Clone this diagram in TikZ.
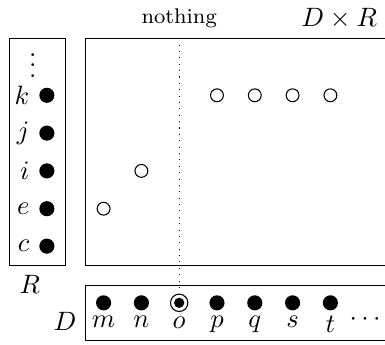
\documentclass[tikz,border=0pt]{standalone}
\usepackage{tikz}

\begin{document}
\begin{tikzpicture}[x=0.5cm, y=0.5cm,
  dot/.style={circle, fill, inner sep=0pt, minimum size=0.2cm},
  hole/.style={circle, draw, inner sep=0pt, minimum size=0.17cm},
  ring/.style={circle, draw, inner sep=0pt, minimum size=0.23cm,
    path picture={\fill (path picture bounding box.center) circle (0.068cm);}},
  lab/.style={label distance=-1.5pt}]
  \useasboundingbox (0,0) rectangle (10.185,9.101);
  % R
  \draw (0.25,2.08) rectangle (1.74,8.09);
  \node[dot, label=left:$c$] (c) at (1.24,2.59) {};
  \node[dot, label=left:$e$] (e) at (1.24,3.58) {};
  \node[dot, label=left:$i$] (i) at (1.24,4.58) {};
  \node[dot, label=left:$j$] (j) at (1.24,5.58) {};
  \node[dot, label=left:$k$] (k) at (1.24,6.58) {};
  \node[anchor=base] (vd) at (0.87,7.05) {$\vdots$};
  \node[anchor=base] (R) at (0.79,1.33) {$R$};
  % D
  \draw (10.185,1.55) -- (2.25,1.55) -- (2.25,0.10) -- (10.185,0.10);
  \node[dot, label={[lab]below:$m$}] (m) at (2.74,1.09) {};
  \node[dot, label={[lab]below:$n$}] (n) at (3.74,1.09) {};
  \node[ring, label={[lab]below:$o$}] (o) at (4.74,1.09) {};
  \node[dot, label={[lab]below:$p$}] (p) at (5.74,1.09) {};
  \node[dot, label={[lab]below:$q$}] (q) at (6.74,1.09) {};
  \node[dot, label={[lab]below:$s$}] (s) at (7.74,1.09) {};
  \node[dot, label={[lab]below:$t$}] (t) at (8.74,1.09) {};
  \node[anchor=base] (more) at (9.66,0.50) {$\cdots$};
  \node[anchor=base] (D) at (1.72,0.37) {$D$};
  % D x R
  \coordinate (nw) at (2.25,8.09);
  \draw (10.185,8.09) -- (nw) -- (2.25,2.08) -- (10.185,2.08);
  \node[hole] (me) at (m |- e) {};
  \node[hole] (ni) at (n |- i) {};
  \node[hole] (pk) at (p |- k) {};
  \node[hole] (qk) at (q |- k) {};
  \node[hole] (sk) at (s |- k) {};
  \node[hole] (tk) at (t |- k) {};
  \draw[dotted, shorten >=1.5pt] (o |- nw) -- (o.north);
  \node[anchor=base, font=\footnotesize] (none) at (4.74,8.49) {nothing};
  \node[anchor=base] (DR) at (8.97,8.41) {$D\times R$};
\end{tikzpicture}
\end{document}
